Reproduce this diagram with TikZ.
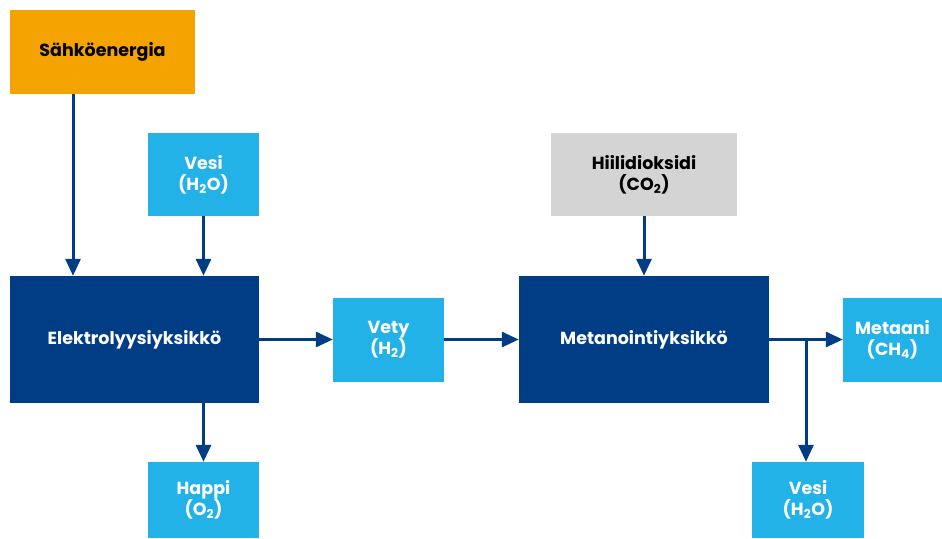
\documentclass[tikz,border=0pt]{standalone}
\usepackage{fontspec}
\setmainfont{Poppins}
\usetikzlibrary{arrows.meta}
\definecolor{energia}{HTML}{F5A300}
\definecolor{vaalea}{HTML}{22B2E7}
\definecolor{tumma}{HTML}{003D84}
\definecolor{harmaa}{HTML}{D4D4D4}
\tikzset{
	laatikko/.style={fill=vaalea, text=white, font=\bfseries\fontsize{17.5}{21}\selectfont, align=center, inner sep=0pt},
	yksikko/.style={laatikko, fill=tumma},
	nuoli/.style={draw=tumma, line width=3pt, -{Triangle[length=17pt,width=15pt]}}
}
\begin{document}
\begin{tikzpicture}[x=1pt,y=-1pt]
	\useasboundingbox (0,0) rectangle (942,538);
	\pgfmathsetmacro\YA{339.5}
	\coordinate (haara) at (806,\YA);

	\draw node[laatikko, fill=energia, text=black, minimum width=185pt, minimum height=84pt] (energia) at (102.5,52) {Sähköenergia};
	\draw node[laatikko, minimum width=111pt, minimum height=83pt] (vesiA) at (203.5,174.5) {Vesi\\(H\textsubscript{2}O)};
	\draw node[yksikko, minimum width=249pt, minimum height=127pt] (elektro) at (134.5,\YA) {Elektrolyysiyksikkö};
	\draw node[laatikko, minimum width=111pt, minimum height=84pt] (vety) at (388.5,\YA) {Vety\\(H\textsubscript{2})};
	\draw node[laatikko, fill=harmaa, text=black, minimum width=186pt, minimum height=83pt] (hiili) at (644,174.5) {Hiilidioksidi\\(CO\textsubscript{2})};
	\draw node[yksikko, minimum width=250pt, minimum height=127pt] (metanointi) at (644,\YA) {Metanointiyksikkö};
	\draw node[laatikko, minimum width=99pt, minimum height=84pt] (metaani) at (892.5,\YA) {Metaani\\(CH\textsubscript{4})};
	\draw node[laatikko, minimum width=111pt, minimum height=76pt] (happi) at (203.5,500) {Happi\\(O\textsubscript{2})};
	\draw node[laatikko, minimum width=112pt, minimum height=76pt] (vesiB) at (808,500) {Vesi\\(H\textsubscript{2}O)};

	\draw[nuoli] (energia.south -| 73,0) -- (elektro.north -| 73,0);
	\draw[nuoli] (vesiA) -- (elektro.north -| vesiA);
	\draw[nuoli] (elektro) -- (vety);
	\draw[nuoli] (vety) -- (metanointi);
	\draw[nuoli] (hiili) -- (metanointi);
	\draw[nuoli] (metanointi) -- (metaani);
	\draw[nuoli] (haara) -- (vesiB.north -| haara);
	\draw[nuoli] (elektro.south -| happi) -- (happi);
\end{tikzpicture}
\end{document}
